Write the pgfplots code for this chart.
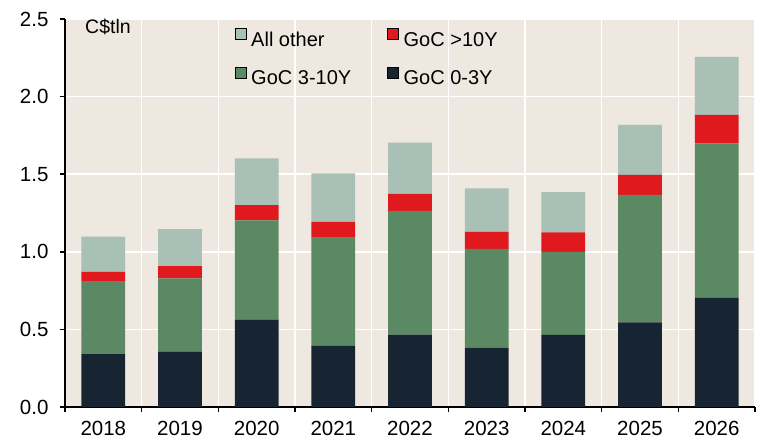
\documentclass[border=0pt]{standalone}
\usepackage{fontspec}
\setmainfont{Liberation Sans}
\usepackage{pgfplots}
\pgfplotsset{compat=1.18}
\definecolor{cdark}{RGB}{23,37,50}
\definecolor{cgreen}{RGB}{90,137,99}
\definecolor{cred}{RGB}{224,25,31}
\definecolor{cgray}{RGB}{168,192,182}
\definecolor{cbg}{RGB}{238,232,224}
\begin{document}
\begin{tikzpicture}
\begin{axis}[name=ax, at={(0,0)}, anchor=south west,
  scale only axis, width=690pt, height=388pt,
  ybar stacked, bar width=0.57,
  xmin=-0.5, xmax=8.5, ymin=0, ymax=2.5,
  xtick={-0.5,0.5,1.5,2.5,3.5,4.5,5.5,6.5,7.5,8.5}, xticklabels={},
  extra x ticks={0,1,2,3,4,5,6,7,8},
  extra x tick labels={2018,2019,2020,2021,2022,2023,2024,2025,2026},
  extra x tick style={major tick length=0pt, grid=none, tick label style={yshift=-11pt}},
  ytick={0,0.5,1,1.5,2,2.5},
  y tick label style={xshift=-8pt, /pgf/number format/.cd, fixed, fixed zerofill, precision=1},
  /pgf/number format/assume math mode=true,
  tick label style={font=\fontsize{20.5}{22}\selectfont},
  axis x line*=bottom, axis y line*=left,
  axis line style={line width=1.6pt},
  tick style={line width=1.6pt, black},
  tick align=outside, major tick length=5pt,
  grid=major, grid style={white, line width=1.6pt},
  axis background/.style={fill=cbg},
  legend columns=2,
  legend cell align=left,
  legend image code/.code={\fill[#1] (0pt,0.5pt) rectangle (11pt,11.5pt);},
  legend style={draw=none, fill=none, at={(0.2415,0.982)}, anchor=north west,
    font=\fontsize{20}{22}\selectfont, row sep=17pt,
    /tikz/every odd column/.append style={column sep=3pt},
    /tikz/every even column/.append style={column sep=34pt}},
]
\addplot[fill=cdark, draw=none, forget plot] coordinates {(0,0.340) (1,0.355) (2,0.561) (3,0.394) (4,0.467) (5,0.383) (6,0.465) (7,0.545) (8,0.703)};
\addplot[fill=cgreen, draw=none, forget plot] coordinates {(0,0.471) (1,0.473) (2,0.641) (3,0.701) (4,0.796) (5,0.636) (6,0.535) (7,0.821) (8,0.996)};
\addplot[fill=cred, draw=none, forget plot] coordinates {(0,0.060) (1,0.080) (2,0.099) (3,0.097) (4,0.111) (5,0.110) (6,0.125) (7,0.129) (8,0.183)};
\addplot[fill=cgray, draw=none, forget plot] coordinates {(0,0.226) (1,0.238) (2,0.301) (3,0.314) (4,0.329) (5,0.280) (6,0.260) (7,0.322) (8,0.374)};
\addlegendimage{fill=cgray}
\addlegendimage{fill=cred}
\addlegendimage{fill=cgreen}
\addlegendimage{fill=cdark}
\legend{All other, GoC >10Y, GoC 3-10Y, GoC 0-3Y}
\node[anchor=west, font=\fontsize{19.5}{21}\selectfont, inner sep=0pt] at (rel axis cs:0.029,0.979) {C\$tln};
\end{axis}
\path ([shift={(-65pt,-36pt)}]ax.south west) rectangle ([shift={(9pt,19pt)}]ax.north east);
\end{tikzpicture}
\end{document}
